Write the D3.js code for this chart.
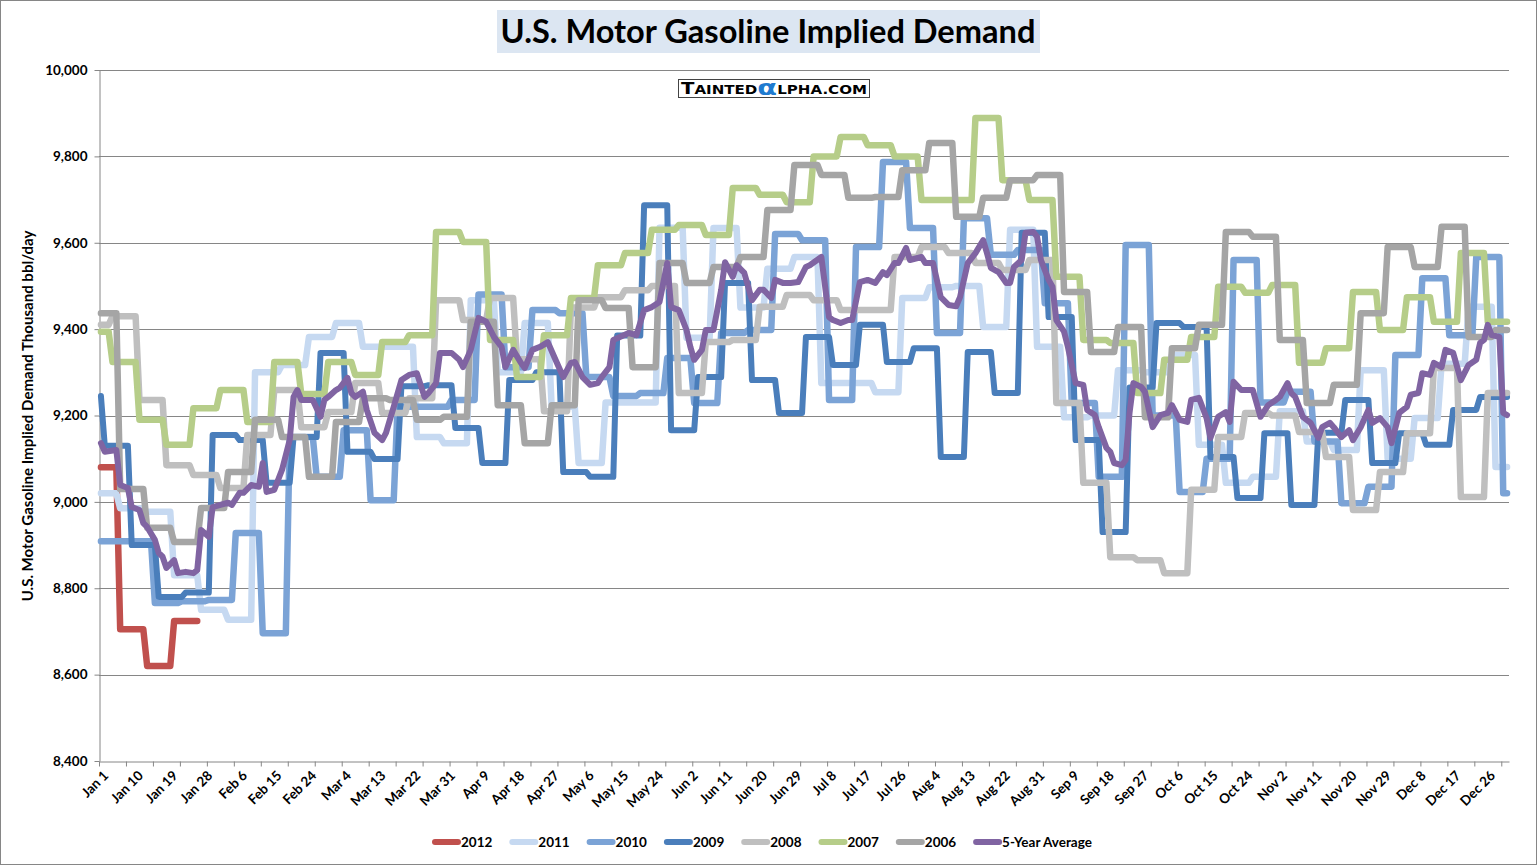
<!DOCTYPE html>
<html>
<head>
<meta charset="utf-8">
<script src="https://cdnjs.cloudflare.com/ajax/libs/d3/7.8.5/d3.min.js"></script>
<style>
  body { margin: 0; background: #fff; }
  text { font-family: Lato, "Open Sans", sans-serif; font-weight: bold; }
</style>
</head>
<body>
<div id="chart"></div>
<script>
// weekly readings, first value = partial first week, then 7-day weeks
var v2012 = [9080, 8705, 8620, 8724];
var v2011 = [9020, 8985, 8977, 8830, 8750, 8727, 9300, 9317, 9382, 9414, 9359, 9359, 9150, 9136, 9467, 9300, 9414, 9220, 9090, 9230, 9230, 9635, 9380, 9634, 9450, 9540, 9567, 9275, 9275, 9254, 9472, 9497, 9500, 9405, 9630, 9359, 9196, 9200, 9305, 9300, 9340, 9132, 9044, 9058, 9210, 9140, 9120, 9305, 9100, 9194, 9320, 9452, 9081];
var v2010 = [8909, 8909, 8766, 8770, 8773, 8928, 8696, 9150, 9058, 9166, 9004, 9220, 9220, 9236, 9480, 9312, 9444, 9437, 9289, 9245, 9252, 9333, 9229, 9391, 9398, 9620, 9606, 9236, 9590, 9787, 9634, 9391, 9657, 9572, 9583, 9460, 9229, 9058, 9595, 9200, 9023, 9100, 9560, 9230, 9255, 9140, 8997, 9035, 9340, 9518, 9386, 9567, 9020];
var v2009 = [9245, 9130, 8900, 8780, 8790, 9155, 9143, 9044, 9150, 9345, 9116, 9099, 9268, 9270, 9171, 9090, 9282, 9300, 9069, 9058, 9385, 9687, 9166, 9289, 9507, 9282, 9206, 9382, 9317, 9410, 9324, 9356, 9104, 9347, 9252, 9623, 9428, 9143, 8930, 9265, 9414, 9405, 9104, 9009, 9159, 8993, 9160, 9236, 9090, 9159, 9132, 9213, 9243, 9243];
var v2008 = [9410, 9430, 9236, 9085, 9062, 9032, 9155, 9259, 9173, 9208, 9275, 9206, 9240, 9467, 9421, 9472, 9330, 9210, 9450, 9474, 9490, 9500, 9252, 9370, 9375, 9452, 9479, 9467, 9444, 9444, 9567, 9590, 9576, 9553, 9537, 9560, 9229, 9044, 8872, 8865, 8835, 9028, 9150, 9206, 9200, 9162, 9104, 8981, 9069, 9159, 9310, 9011, 9252];
var v2007 = [9394, 9324, 9190, 9132, 9217, 9259, 9185, 9324, 9250, 9324, 9294, 9370, 9386, 9625, 9602, 9375, 9289, 9386, 9472, 9548, 9576, 9630, 9641, 9618, 9727, 9711, 9694, 9800, 9845, 9826, 9800, 9699, 9699, 9889, 9745, 9699, 9521, 9375, 9368, 9252, 9329, 9382, 9498, 9484, 9502, 9322, 9356, 9486, 9398, 9474, 9417, 9576, 9417];
var v2006 = [9437, 9030, 8940, 8907, 8986, 9069, 9190, 9150, 9058, 9185, 9240, 9236, 9190, 9197, 9417, 9224, 9136, 9224, 9467, 9449, 9312, 9553, 9507, 9544, 9567, 9676, 9780, 9757, 9704, 9706, 9768, 9831, 9660, 9704, 9745, 9757, 9486, 9347, 9405, 9196, 9356, 9410, 9625, 9614, 9375, 9229, 9271, 9437, 9590, 9544, 9637, 9382, 9398];

// day of year on which the second reading of each year starts
var yearNames = ["2012", "2011", "2010", "2009", "2008", "2007", "2006"];
var secondWeekDay = [5, 5, 7, 1, 3, 3, 5];

var avgDays = [0,1,4,5,7,8,10,11,12,14,15,16,17,19,20,22,24,25,26,28,29,31,33,34,36,37,39,41,42,43,45,47,49,50,51,52,54,55,57,58,59,61,62,64,65,66,68,69,71,73,74,76,78,80,82,84,85,87,88,91,93,94,96,98,100,102,104,105,107,109,110,112,114,116,118,120,122,123,125,127,129,130,132,133,137,139,141,143,145,147,148,150,152,153,154,156,157,159,161,162,164,165,167,169,171,172,174,175,177,179,181,183,184,187,189,190,192,194,195,197,199,201,203,204,206,207,209,210,213,214,216,218,220,222,223,225,227,229,230,231,233,235,236,237,239,240,242,243,244,246,247,248,250,251,253,255,256,258,259,261,262,263,265,266,267,268,270,271,273,275,277,278,280,282,283,285,287,288,290,292,293,294,296,297,299,301,303,305,306,308,309,310,312,314,316,317,319,320,322,324,325,327,329,330,332,334,335,337,339,340,342,343,345,346,348,349,351,353,355,357,358,359,360,361,363,364,365];
var avgValues = [9136,9116,9120,9039,9032,8988,8981,8951,8942,8912,8882,8873,8847,8865,8835,8838,8835,8842,8935,8919,8988,8993,8998,8993,9021,9021,9039,9035,9090,9023,9028,9074,9143,9243,9259,9236,9236,9236,9197,9236,9243,9259,9264,9287,9252,9243,9255,9213,9160,9143,9160,9220,9282,9294,9298,9243,9252,9275,9345,9345,9329,9312,9352,9426,9417,9382,9359,9312,9352,9322,9310,9352,9359,9370,9329,9289,9322,9324,9289,9271,9275,9289,9312,9375,9391,9386,9444,9451,9463,9553,9451,9444,9398,9359,9329,9352,9398,9398,9491,9555,9521,9548,9530,9467,9491,9491,9472,9514,9507,9507,9509,9544,9548,9567,9428,9421,9414,9421,9421,9509,9514,9507,9532,9525,9553,9553,9588,9560,9567,9553,9553,9474,9456,9453,9474,9553,9576,9606,9576,9542,9532,9507,9507,9544,9560,9623,9625,9614,9560,9514,9498,9421,9394,9359,9275,9271,9213,9201,9173,9125,9116,9090,9085,9097,9206,9275,9266,9255,9173,9201,9206,9224,9190,9185,9236,9241,9194,9148,9197,9208,9185,9278,9259,9259,9259,9197,9224,9236,9243,9275,9252,9243,9197,9183,9148,9173,9183,9173,9150,9166,9143,9173,9213,9183,9194,9173,9136,9206,9220,9248,9252,9298,9294,9322,9312,9352,9345,9282,9317,9329,9368,9375,9410,9386,9382,9206,9201];

var dateLabels = ["Jan 1","Jan 10","Jan 19","Jan 28","Feb 6","Feb 15","Feb 24","Mar 4","Mar 13","Mar 22","Mar 31","Apr 9","Apr 18","Apr 27","May 6","May 15","May 24","Jun 2","Jun 11","Jun 20","Jun 29","Jul 8","Jul 17","Jul 26","Aug 4","Aug 13","Aug 22","Aug 31","Sep 9","Sep 18","Sep 27","Oct 6","Oct 15","Oct 24","Nov 2","Nov 11","Nov 20","Nov 29","Dec 8","Dec 17","Dec 26"];
var yTicks = [8400, 8600, 8800, 9000, 9200, 9400, 9600, 9800, 10000];

var colors = {
  "2012": "#C0504D", "2011": "#C6D9F1", "2010": "#7BA3D6", "2009": "#4A7EBB",
  "2008": "#BFBFBF", "2007": "#B6CD89", "2006": "#A5A5A5", "avg": "#8064A2"
};

var width = 1537, height = 865;
var plot = { left: 99, right: 1509, top: 70, bottom: 761 };
var nDays = 366;
var gridColor = "#868686";

var svg = d3.select("#chart").append("svg")
  .attr("width", width).attr("height", height);

svg.append("rect").attr("x", 0.5).attr("y", 0.5)
  .attr("width", width - 1).attr("height", height - 1)
  .attr("fill", "#fff").attr("stroke", gridColor);

var x = d3.scaleBand().domain(d3.range(nDays)).range([plot.left, plot.right]);
var xEdge = d3.scaleLinear().domain([0, nDays]).range([plot.left, plot.right]);
var xc = function(d) { return x(d) + x.bandwidth() / 2; };
var y = d3.scaleLinear().domain([8400, 10000]).range([plot.bottom, plot.top]);

// gridlines
svg.append("g").selectAll("line").data(yTicks.slice(1)).join("line")
  .attr("x1", plot.left).attr("x2", plot.right)
  .attr("y1", function(d) { return Math.round(y(d)) + 0.5; })
  .attr("y2", function(d) { return Math.round(y(d)) + 0.5; })
  .attr("stroke", gridColor).attr("stroke-width", 1);

// y axis
var yAxis = svg.append("g").attr("transform", "translate(" + (plot.left + 0.5) + ",0)")
  .call(d3.axisLeft(y).tickValues(yTicks).tickSize(5).tickSizeOuter(0).tickFormat(d3.format(",")));
yAxis.selectAll("path, line").attr("stroke", gridColor);
yAxis.selectAll("text").attr("font-size", 13.5).attr("fill", "#000")
  .attr("font-family", "Lato, sans-serif").attr("font-weight", "bold").attr("x", -12);

// x axis ticks every week
var xAxis = svg.append("g").attr("transform", "translate(0," + (Math.round(plot.bottom) + 0.5) + ")")
  .call(d3.axisBottom(xEdge).tickValues(d3.range(0, nDays, 7)).tickSize(5).tickSizeOuter(0).tickFormat(""));
xAxis.selectAll("path, line").attr("stroke", gridColor);

svg.append("g").selectAll("text").data(dateLabels).join("text")
  .attr("transform", function(d, i) { return "translate(" + (xc(i * 9) + 5) + "," + (plot.bottom + 12) + ") rotate(-45)"; })
  .attr("text-anchor", "end").attr("dy", "0.35em")
  .attr("font-size", 13.5).text(function(d) { return d; });

// y axis title
var yTitle = svg.append("text")
  .attr("transform", "translate(33,416) rotate(-90)")
  .attr("text-anchor", "middle").attr("font-size", 12.5)
  .text("U.S. Motor Gasoline Implied Demand Thousand bbl/day");
fitWidth(yTitle, 371);

// title
svg.append("rect").attr("x", 497).attr("y", 10).attr("width", 543).attr("height", 43).attr("fill", "#DCE6F2");
var title = svg.append("text").attr("x", 768).attr("y", 43).attr("text-anchor", "middle")
  .attr("font-size", 29).text("U.S. Motor Gasoline Implied Demand");
fitWidth(title, 535);

// logo
svg.append("rect").attr("x", 678.5).attr("y", 79.5).attr("width", 191).attr("height", 18)
  .attr("fill", "#fff").attr("stroke", "#444");
var logo = svg.append("text").attr("x", 774).attr("y", 94).attr("text-anchor", "middle")
  .style("font-family", "'DejaVu Sans', sans-serif").style("font-weight", "bold");
logo.append("tspan").attr("font-size", 15).text("T");
logo.append("tspan").attr("font-size", 11.5).text("AINTED");
logo.append("tspan").attr("font-size", 22).attr("fill", "#1F7BD0").attr("dy", 1).text("α");
logo.append("tspan").attr("font-size", 11.5).attr("dy", -1).text("LPHA.COM");
fitWidth(logo, 186);

function fitWidth(sel, target) {
  var len = sel.node().getComputedTextLength();
  var fs = parseFloat(sel.attr("font-size"));
  if (len > 0 && fs) sel.attr("font-size", fs * target / len);
  else if (len > 0) sel.attr("textLength", target).attr("lengthAdjust", "spacingAndGlyphs");
}

// step series
function stepPoints(values, start) {
  var pts = [];
  values.forEach(function(v, i) {
    var a = i === 0 ? 0 : start + 7 * (i - 1);
    var b = i === 0 ? start - 1 : Math.min(a + 6, nDays - 1);
    if (a > nDays - 1) return;
    pts.push([a, v]);
    if (b > a) pts.push([b, v]);
  });
  return pts;
}

var yearValues = [v2012, v2011, v2010, v2009, v2008, v2007, v2006];
var line = d3.line().x(function(p) { return xc(p[0]); }).y(function(p) { return y(p[1]); });

var lines = svg.append("g").attr("fill", "none")
  .attr("stroke-linejoin", "round").attr("stroke-linecap", "round");

yearNames.forEach(function(name, i) {
  lines.append("path")
    .attr("d", line(stepPoints(yearValues[i], secondWeekDay[i])))
    .attr("stroke", colors[name])
    .attr("stroke-width", name === "2009" ? 6 : 6.5);
});

lines.append("path")
  .attr("d", line(avgDays.map(function(d, i) { return [d, avgValues[i]]; })))
  .attr("stroke", colors.avg).attr("stroke-width", 6);

// legend
var legendNames = yearNames.concat(["5-Year Average"]);
var legendKeys = yearNames.concat(["avg"]);
var legend = svg.append("g").attr("transform", "translate(432,842)");
legendNames.forEach(function(name, i) {
  var g = legend.append("g").attr("transform", "translate(" + (i * 77.3) + ",0)");
  g.append("line").attr("x1", 3).attr("x2", 26).attr("y1", 0).attr("y2", 0)
    .attr("stroke", colors[legendKeys[i]]).attr("stroke-width", 6).attr("stroke-linecap", "round");
  g.append("text").attr("x", 29).attr("dy", "0.35em").attr("font-size", 13.5).text(name);
});
</script>
</body>
</html>
